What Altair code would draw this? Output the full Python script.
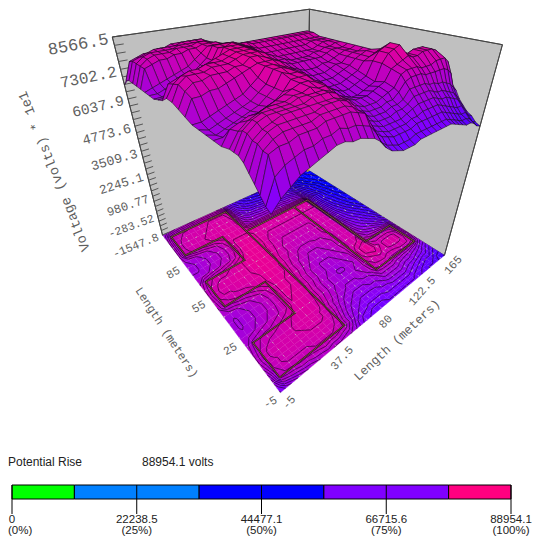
import numpy as np
import pandas as pd
import altair as alt

PAGE = 8
W_CHART, H_CHART = 525, 529

# Voltage surface, % of the vertical axis. One row per entry of ROW_POS, 35 columns per u step of 5 m
ROW_POS = [0,.5,1,1.5,2,2.5,3,3.5,4,5,6,7,8,9,10,11,12,13,14,15,16,17,18,19,20,21,22,23,24]
H = [
[77,80,82,84,85,86,87,88,88,87,87,86,85,83,80,78,77,76,76,76,77,77,77,77,77,77,77,76,75,74,73,73,72,70,69],
[78,85,87,88,89,89,90,90,91,90,90,89,88,85,81,79,78,77,77,77,78,78,78,78,78,78,78,77,76,75,74,74,73,71,70],
[80,90,91,91,92,92,92,93,93,93,93,92,91,87,83,81,80,79,79,79,79,80,80,80,80,80,80,79,78,77,76,75,75,73,72],
[82,90,92,93,93,93,93,94,94,94,94,93,91,87,84,82,81,80,80,80,80,81,81,82,82,82,82,81,80,79,78,77,77,75,73],
[84,91,93,94,94,94,94,94,95,95,95,94,92,88,85,83,82,81,81,81,81,82,83,84,84,84,84,83,82,82,81,80,79,77,75],
[86,91,93,94,95,95,95,95,95,95,95,94,93,89,86,84,83,82,82,82,83,83,84,86,86,86,86,85,84,84,83,82,81,79,77],
[87,92,94,95,95,95,95,95,96,96,96,95,93,90,87,85,84,83,83,83,84,84,85,88,88,88,88,87,87,86,86,85,84,82,80],
[87,92,94,95,95,95,95,96,96,96,96,95,93,90,88,86,85,84,84,84,85,85,87,90,91,91,91,90,90,90,90,90,89,87,82],
[87,91,93,94,95,95,95,96,96,97,96,96,94,91,89,87,86,85,85,85,86,87,88,92,93,93,93,92,92,92,93,93,93,91,83],
[86,90,91,92,92,93,94,95,96,97,97,96,95,92,90,88,87,86,86,86,87,88,89,93,94,95,96,95,95,96,96,96,95,92,85],
[86,86,87,88,89,90,91,92,94,97,97,97,95,92,90,88,87,86,85,85,86,87,88,94,97,98,99,96,95,96,96,96,95,91,84],
[86,85,86,87,88,89,90,92,94,98,97,97,96,93,91,89,88,87,86,86,87,88,89,94,97,98,99,93,92,92,92,92,91,88,81],
[86,85,86,87,88,89,90,92,94,98,98,97,96,93,91,89,88,87,87,87,88,89,90,93,94,95,96,89,87,86,85,84,82,80,76],
[86,86,87,88,89,90,91,93,95,98,98,97,96,94,92,90,89,88,88,88,89,90,91,93,94,95,95,87,84,82,81,79,77,75,72],
[87,92,92,93,93,94,95,96,97,98,98,98,97,94,92,91,90,89,89,89,90,91,91,93,94,94,95,86,82,80,78,76,74,72,69],
[88,93,95,95,96,96,96,97,97,99,99,98,97,95,93,92,91,90,90,90,91,91,92,93,94,94,95,85,81,78,76,74,72,70,68],
[89,94,96,96,96,97,97,97,98,99,99,99,98,95,94,93,92,92,92,92,92,92,93,94,94,94,95,84,79,76,74,72,70,68,66],
[89,93,95,96,96,97,97,97,98,99,99,99,98,96,94,93,93,92,92,92,92,93,93,94,94,95,95,83,78,75,72,70,68,66,64],
[87,92,93,94,94,95,96,97,98,99,99,99,98,96,95,94,93,93,93,93,93,93,93,94,95,95,95,82,77,73,71,68,66,64,63],
[86,86,87,88,89,90,91,93,95,99,99,99,98,97,95,94,94,94,94,94,94,94,94,95,95,95,95,81,76,72,69,67,65,63,62],
[85,85,86,87,88,89,90,92,94,98,98,99,98,97,96,95,95,95,95,95,95,95,95,95,95,95,95,80,75,71,68,66,64,62,61],
[85,85,86,87,88,89,90,92,94,98,98,98,98,97,97,96,96,96,96,96,96,96,96,96,96,96,96,80,74,70,67,65,63,61,60],
[85,86,87,88,89,90,91,93,95,97,97,97,97,96,96,96,96,96,96,96,96,96,96,96,96,96,96,80,74,70,67,64,62,60,59],
[85,92,93,94,94,95,95,96,96,97,97,97,96,90,88,87,87,87,87,87,87,86,86,85,85,84,83,76,71,68,65,63,61,59,58],
[85,92,94,95,95,95,96,96,96,97,97,96,95,87,84,83,83,82,82,82,82,81,81,80,80,79,78,73,69,66,64,62,60,58,57],
[85,92,94,95,95,95,95,96,96,96,96,96,95,85,81,79,78,78,77,77,77,76,76,75,75,74,73,70,67,64,62,60,58,57,56],
[85,92,93,94,95,95,95,95,96,96,96,96,94,83,78,76,74,73,73,72,72,72,71,71,70,70,69,67,64,62,60,58,57,56,55],
[84,91,92,93,93,94,94,95,95,95,95,95,92,81,76,73,71,70,69,69,68,68,67,67,66,66,65,64,62,60,58,57,56,55,54],
[81,84,85,86,86,87,87,88,88,88,88,87,84,78,74,71,69,67,66,65,65,64,64,63,63,63,62,61,60,58,57,56,55,54,53],
]
Z_MIN, Z_MAX = -1547.8, 8566.5
Z_LABELS = ["8566.5", "7302.2", "6037.9", "4773.6", "3509.3", "2245.1", "980.77", "-283.52", "-1547.8"]
Z_SIZES = [17, 16, 14.7, 13.8, 13.3, 12.7, 12.2, 11.4, 11.6]
U_LABELS = ["-5", "37.5", "80", "122.5", "165"]
V_LABELS = ["-5", "25", "55", "85"]
CONDUCTOR_A = [(1,1),(12,1),(12,23),(1,23),(1,19),(8,19),(8,14),(1,14),(1,10),(8,10),(8,5),(1,5),(1,1)]
CONDUCTOR_B = [(12,18),(26.5,18),(26.5,7.3),(33,7.3),(33,3.6),(23,3.6),(23,18)]
LEG_EDGES = [0, 11119.3, 33357.8, 55596.3, 77834.8, 88954.1]
LEG_COLORS = ["#00ff00", "#0080ff", "#0000ff", "#8000ff", "#ff0080"]
LEG_TICKS = [0, 22238.5, 44477.1, 66715.6, 88954.1]
LEG_TEXT = ["0", "22238.5", "44477.1", "66715.6", "88954.1"]
LEG_PCT = ["(0%)", "(25%)", "(50%)", "(75%)", "(100%)"]
TOTAL = 88954.1

# camera: fitted to the visible box corners
cube = [(0,0,0),(1,0,0),(0,1,0),(1,1,0),(0,1,1),(1,1,1),(1,0,1)]
img = [(280,393),(445,255),(163,235),(307,170),(112,37),(310,9),(502,45)]
A, b = [], []
for (s,t,w),(x,y) in zip(cube,img):
    A.append([s,t,w,1,0,0,0,0,-x*s,-x*t,-x*w]); b.append(x)
    A.append([0,0,0,0,s,t,w,1,-y*s,-y*t,-y*w]); b.append(y)
p = np.linalg.lstsq(np.array(A,float),np.array(b,float),rcond=None)[0]
CAM = np.array([p[:4],p[4:8],[*p[8:],1.0]])

def proj(s,t,w=0.0):
    q = CAM @ np.array([s,t,w,1.0])
    return [float(q[0]/q[2]-PAGE), float(q[1]/q[2]-PAGE)]
def depth(s,t,w):
    return float((CAM @ np.array([s,t,w,1.0]))[2])

G = np.array(H,float)
nj,ni = G.shape
S = lambda i: i/(ni-1)
T = lambda j: j/24
RP = ROW_POS

def colour(pct):
    v = (Z_MIN + pct/100*(Z_MAX-Z_MIN))*10/TOTAL
    stops = [(0.5,(0,0,255)),(0.72,(128,0,255)),(1.0,(255,0,128))]
    v = min(max(v,0.5),1.0)
    for (a,ca),(b_,cb) in zip(stops,stops[1:]):
        if v<=b_:
            f=(v-a)/(b_-a)
            c=[int(round(ca[k]+(cb[k]-ca[k])*f)) for k in range(3)]
            return "#%02x%02x%02x"%tuple(c)
    return "#ff0080"

def poly(pts,c):
    pts=list(pts)+[pts[0]]
    return {"type":"Feature","geometry":{"type":"Polygon","coordinates":[pts]},"properties":{"c":c}}
def mline(lines):
    return {"type":"Feature","geometry":{"type":"MultiLineString","coordinates":lines},"properties":{}}

PROJ = dict(type="identity",scale=1,translate=[0,0])
def fills(features,stroke,sw):
    return alt.Chart(alt.Data(values=features)).mark_geoshape(stroke=stroke,strokeWidth=sw).encode(
        color=alt.Color("properties.c:N",scale=None)).project(**PROJ)
def lines(features,stroke,sw,**kw):
    return alt.Chart(alt.Data(values=features)).mark_geoshape(filled=False,stroke=stroke,strokeWidth=sw,**kw).project(**PROJ)

# walls
walls=[poly([proj(0,1,0),proj(1,1,0),proj(1,1,1),proj(0,1,1)],"#c0c0c0"),
       poly([proj(1,0,0),proj(1,1,0),proj(1,1,1),proj(1,0,1)],"#c0c0c0")]

# floor cells
floor=[]
for j in range(nj-1):
    for i in range(ni-1):
        floor.append(poly([proj(S(i),T(RP[j])),proj(S(i+1),T(RP[j])),proj(S(i+1),T(RP[j+1])),proj(S(i),T(RP[j+1]))],
                          colour(G[j:j+2,i:i+2].mean())))

# contours (marching squares over the table)
segs=[]
for lev in np.arange(53.3,100,2):
    for j in range(nj-1):
        for i in range(ni-1):
            c=[(i,RP[j],G[j,i]),(i+1,RP[j],G[j,i+1]),(i+1,RP[j+1],G[j+1,i+1]),(i,RP[j+1],G[j+1,i])]
            cross=[]
            for k in range(4):
                a,b_=c[k],c[(k+1)%4]
                if (a[2]-lev)*(b_[2]-lev)<0:
                    f=(lev-a[2])/(b_[2]-a[2])
                    cross.append(proj(S(a[0]+f*(b_[0]-a[0])),T(a[1]+f*(b_[1]-a[1]))))
            if len(cross)==2: segs.append(cross)
            elif len(cross)==4: segs+= [cross[:2],cross[2:]]

# dotted grey field on the floor
dots=[[proj(S(i),0),proj(S(i),1)] for i in range(0,ni,3)]+[[proj(0,T(j)),proj(1,T(j))] for j in range(1,25,4)]

# conductors
cond=[[proj(S(i),T(j)) for i,j in CONDUCTOR_A],[proj(S(i),T(j)) for i,j in CONDUCTOR_B]]

# z ticks
ticks=[]
for k in range(33):
    w=k/32
    ticks.append([proj(0,1,w),proj(0.035,1,w)])

# surface
quads=[]
for j in range(nj-1):
    for i in range(ni-1):
        z=G[j:j+2,i:i+2].mean()
        d=depth(S(i+.5),T((RP[j]+RP[j+1])/2),z/100)
        quads.append((d,poly([proj(S(i),T(RP[j]),G[j,i]/100),proj(S(i+1),T(RP[j]),G[j,i+1]/100),
                              proj(S(i+1),T(RP[j+1]),G[j+1,i+1]/100),proj(S(i),T(RP[j+1]),G[j+1,i]/100)],colour(z))))
quads.sort(key=lambda q:-q[0])
quads=[q[1] for q in quads]

edges=[[proj(0,1,0),proj(0,1,1),proj(1,1,1),proj(1,0,1),proj(1,0,0)],[proj(1,1,0),proj(1,1,1)]]

def text_df(rows):
    return pd.DataFrame(rows,columns=["x","y","angle","size","label"])
def texts(rows,align,font,color):
    return alt.Chart(text_df(rows)).mark_text(align=align,baseline="middle",font=font,color=color).encode(
        x=alt.X("x:Q",scale=None,axis=None),y=alt.Y("y:Q",scale=None,axis=None),
        angle=alt.Angle("angle:Q",scale=None),size=alt.Size("size:Q",scale=None,legend=None),text="label:N")

MONO="Liberation Mono"; GREY="#606060"
zrows=[]
for k,(lab,fs) in enumerate(zip(Z_LABELS,Z_SIZES)):
    x,y=proj(0,1,1-k/8)
    zrows.append([x-4,y+2,(360-10.5-k*1.4),fs,lab])
urows=[]
for k,lab in enumerate(U_LABELS):
    x,y=proj(k/4,0); urows.append([x+9,y+10,312,11.5,lab])
vrows=[]
for k,lab in enumerate(V_LABELS):
    x,y=proj(0,k/4); vrows.append([x-10,y+10,330,11.5,lab])
tr=proj(.5,0); tl=proj(0,.5); tz=proj(0,1,.5)
titles=[[tr[0]+20,tr[1]+28,317,12.5,"Length (meters)"],
        [tl[0]-42,tl[1]+35,57,11.7,"Length (meters)"],
        [tz[0]-87,tz[1]+20,248,13.6,"Voltage (volts) * 1e1"]]

back=alt.Chart(pd.DataFrame({"x":[proj(1,1)[0]],"y":[proj(1,1)[1]]})).mark_point(shape="cross",filled=True,color="#e8e000",size=22).encode(
    x=alt.X("x:Q",scale=None,axis=None),y=alt.Y("y:Q",scale=None,axis=None))

# legend
LX=alt.Scale(domain=[0,TOTAL],range=[12-PAGE,511-PAGE])
leg=pd.DataFrame({"a":LEG_EDGES[:-1],"b":LEG_EDGES[1:],"c":LEG_COLORS})
bar=alt.Chart(leg).mark_rect(stroke="#000",strokeWidth=1).encode(
    x=alt.X("a:Q",scale=LX,axis=None),x2="b:Q",y=alt.value(485-PAGE),y2=alt.value(499-PAGE),color=alt.Color("c:N",scale=None))
tk=pd.DataFrame({"v":LEG_TICKS,"t":LEG_TEXT,"p":LEG_PCT})
rule=alt.Chart(tk).mark_rule(color="#000",strokeWidth=1).encode(
    x=alt.X("v:Q",scale=LX,axis=None),y=alt.value(485-PAGE),y2=alt.value(514-PAGE))
SANS="Liberation Sans"
lab1=alt.Chart(tk).mark_text(font=SANS,fontSize=11.5,color="#222",baseline="middle").encode(
    x=alt.X("v:Q",scale=LX,axis=None),y=alt.value(520-PAGE),text="t:N")
lab2=alt.Chart(tk[1:]).mark_text(font=SANS,fontSize=11.5,color="#222",baseline="middle").encode(
    x=alt.X("v:Q",scale=LX,axis=None),y=alt.value(531-PAGE),text="p:N")
lab2b=alt.Chart(tk[:1]).mark_text(font=SANS,fontSize=11.5,color="#222",baseline="middle",align="left",dx=-4).encode(
    x=alt.X("v:Q",scale=LX,axis=None),y=alt.value(531-PAGE),text="p:N")
head=texts([[0,462-PAGE,0,12,"Potential Rise"],[142-PAGE,462-PAGE,0,12,"88954.1 volts"]],"left",SANS,"#222")

floor_layer=alt.Chart(alt.Data(values=floor)).mark_geoshape(strokeWidth=0.3).encode(
    color=alt.Color("properties.c:N",scale=None),stroke=alt.Stroke("properties.c:N",scale=None)).project(**PROJ)

chart=alt.layer(
    fills(walls,"#555555",1),
    floor_layer,
    lines([mline(dots)],"#c0c0c0",0.9,strokeDash=[1.5,7]),
    lines([mline(segs)],"#1a0020",0.6),
    lines([mline(cond)],"#201010",1.7),
    lines([mline(cond)],"#b08060",0.6),
    lines([mline(ticks)],"#555555",1),
    lines([mline(edges)],"#444444",1),
    back,
    fills(quads,"#1a0a20",0.55),
    texts(zrows,"right",MONO,GREY),
    texts(urows,"center",MONO,GREY),
    texts(vrows,"center",MONO,GREY),
    texts(titles,"center",MONO,GREY),
    head,bar,rule,lab1,lab2,lab2b,
).resolve_scale(x="independent",y="independent").properties(
    width=W_CHART,height=H_CHART,padding=0,autosize="none",background="white"
).configure_view(stroke=None)

chart.save("out.html",embed_options={"renderer":"svg","actions":False})
